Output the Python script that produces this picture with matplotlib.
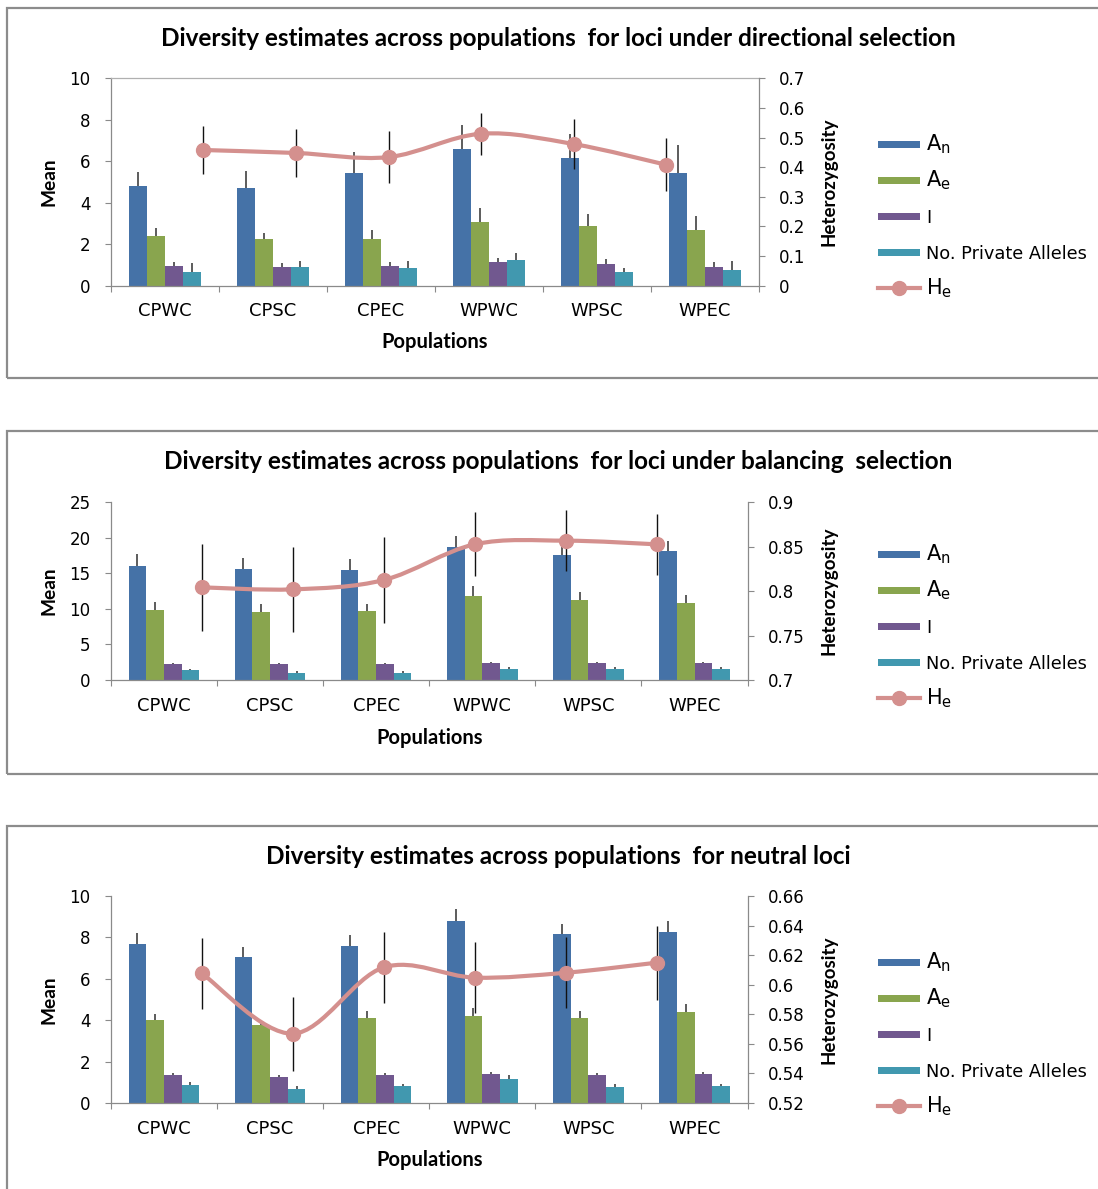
import matplotlib
matplotlib.use('Agg')
import matplotlib.pyplot as plt
from matplotlib.patches import Rectangle, PathPatch
from matplotlib.path import Path
from matplotlib.lines import Line2D
import numpy as np

# ---------------- data ----------------
populations = ['CPWC', 'CPSC', 'CPEC', 'WPWC', 'WPSC', 'WPEC']

titles = ['Diversity estimates across populations  for loci under directional selection',
          'Diversity estimates across populations  for loci under balancing  selection',
          'Diversity estimates across populations  for neutral loci']

# directional selection
dir_An = [4.79, 4.71, 5.43, 6.61, 6.14, 5.43]
dir_An_err = [0.68, 0.82, 1.03, 1.16, 1.16, 1.35]
dir_Ae = [2.40, 2.25, 2.25, 3.05, 2.88, 2.68]
dir_Ae_err = [0.37, 0.27, 0.42, 0.70, 0.60, 0.70]
dir_I = [0.95, 0.90, 0.95, 1.14, 1.05, 0.90]
dir_I_err = [0.18, 0.18, 0.18, 0.18, 0.22, 0.23]
dir_PA = [0.68, 0.90, 0.85, 1.24, 0.64, 0.77]
dir_PA_err = [0.40, 0.30, 0.36, 0.32, 0.20, 0.40]
dir_He = [0.458, 0.448, 0.434, 0.513, 0.478, 0.408]
dir_He_err = [0.082, 0.080, 0.088, 0.071, 0.085, 0.089]

# balancing selection
bal_An = [16.09, 15.67, 15.53, 18.67, 17.59, 18.10]
bal_An_err = [1.64, 1.45, 1.45, 1.64, 1.60, 1.50]
bal_Ae = [9.85, 9.57, 9.66, 11.87, 11.21, 10.88]
bal_Ae_err = [1.17, 1.12, 1.03, 1.31, 1.17, 1.08]
bal_I = [2.20, 2.20, 2.20, 2.35, 2.35, 2.35]
bal_I_err = [0.24, 0.19, 0.24, 0.23, 0.20, 0.22]
bal_PA = [1.36, 0.98, 0.98, 1.50, 1.50, 1.50]
bal_PA_err = [0.23, 0.33, 0.33, 0.38, 0.28, 0.38]
bal_He = [0.8043, 0.8020, 0.8125, 0.8527, 0.8568, 0.8527]
bal_He_err = [0.049, 0.048, 0.048, 0.036, 0.034, 0.034]

# neutral loci
neu_An = [7.68, 7.04, 7.60, 8.78, 8.15, 8.24]
neu_An_err = [0.52, 0.50, 0.50, 0.58, 0.50, 0.56]
neu_Ae = [4.03, 3.75, 4.12, 4.22, 4.12, 4.40]
neu_Ae_err = [0.27, 0.10, 0.32, 0.35, 0.32, 0.38]
neu_I = [1.35, 1.27, 1.35, 1.40, 1.35, 1.40]
neu_I_err = [0.08, 0.08, 0.08, 0.08, 0.08, 0.08]
neu_PA = [0.85, 0.66, 0.81, 1.18, 0.76, 0.81]
neu_PA_err = [0.16, 0.15, 0.13, 0.17, 0.14, 0.13]
neu_He = [0.6077, 0.5669, 0.6117, 0.6048, 0.6081, 0.6149]
neu_He_err = [0.024, 0.025, 0.024, 0.024, 0.024, 0.025]

left_ticks = [[0, 2, 4, 6, 8, 10], [0, 5, 10, 15, 20, 25], [0, 2, 4, 6, 8, 10]]
right_ticks = [[0, 0.1, 0.2, 0.3, 0.4, 0.5, 0.6, 0.7],
               [0.7, 0.75, 0.8, 0.85, 0.9],
               [0.52, 0.54, 0.56, 0.58, 0.60, 0.62, 0.64, 0.66]]
right_ticklabels = [['0', '0.1', '0.2', '0.3', '0.4', '0.5', '0.6', '0.7'],
                    ['0.7', '0.75', '0.8', '0.85', '0.9'],
                    ['0.52', '0.54', '0.56', '0.58', '0.6', '0.62', '0.64', '0.66']]

series_labels = ['A$_\\mathregular{n}$', 'A$_\\mathregular{e}$', 'I', 'No. Private Alleles',
                 'H$_\\mathregular{e}$']

# ---------------- style ----------------
W, H = 1098, 1189
C_AN, C_AE, C_I, C_PA, C_HE = '#4572A7', '#89A54E', '#71588F', '#4198AF', '#D4908E'
AX_COL = '#8a8a8a'
BOLD_FONT = ['Lato', 'DejaVu Sans']
LEG_FS = 12.8

fig = plt.figure(figsize=(W / 100, H / 100), dpi=100)


def fx(px):
    return px / W


def fy(py):
    return 1 - py / H


def smooth_path(x, y):
    pts = np.column_stack([x, y]).astype(float)
    n = len(pts)
    verts = [pts[0]]
    codes = [Path.MOVETO]
    for i in range(n - 1):
        p0 = pts[max(i - 1, 0)]
        p1 = pts[i]
        p2 = pts[i + 1]
        p3 = pts[min(i + 2, n - 1)]
        verts += [p1 + (p2 - p0) / 6, p2 - (p3 - p1) / 6, p2]
        codes += [Path.CURVE4] * 3
    return Path(verts, codes)


class BarHandler:
    def legend_artist(self, legend, orig_handle, fontsize, handlebox):
        h = 5.0
        r = Rectangle((-handlebox.xdescent, 0.36 * fontsize - h / 2), handlebox.width, h,
                      facecolor=orig_handle.get_facecolor(), edgecolor='none')
        handlebox.add_artist(r)
        return r


class LineHandler:
    def legend_artist(self, legend, orig_handle, fontsize, handlebox):
        x0 = -handlebox.xdescent
        w = handlebox.width
        yc = 0.36 * fontsize
        ln = Line2D([x0, x0 + w], [yc, yc], color=orig_handle.get_color(),
                    lw=orig_handle.get_linewidth())
        mk = Line2D([x0 + w / 2], [yc], marker='o', markersize=orig_handle.get_markersize(),
                    color=orig_handle.get_color(), lw=0)
        handlebox.add_artist(ln)
        handlebox.add_artist(mk)
        return ln


panels = [
    dict(bars=[(dir_An, dir_An_err), (dir_Ae, dir_Ae_err), (dir_I, dir_I_err), (dir_PA, dir_PA_err)],
         he=(dir_He, dir_He_err), ylim=(0, 10), y2lim=(0, 0.7),
         box=(7, 8, 378), ax=(110.8, 758.9, 78.3, 285.7), title_y=38, xlabel_y=342,
         het_x=829, mean_x=48.5, leg_y=216, topspine=True),
    dict(bars=[(bal_An, bal_An_err), (bal_Ae, bal_Ae_err), (bal_I, bal_I_err), (bal_PA, bal_PA_err)],
         he=(bal_He, bal_He_err), ylim=(0, 25), y2lim=(0.7, 0.9),
         box=(7, 431, 774), ax=(110.8, 747.6, 502.3, 680.0), title_y=462, xlabel_y=738,
         het_x=829, mean_x=48.5, leg_y=626, topspine=False),
    dict(bars=[(neu_An, neu_An_err), (neu_Ae, neu_Ae_err), (neu_I, neu_I_err), (neu_PA, neu_PA_err)],
         he=(neu_He, neu_He_err), ylim=(0, 10), y2lim=(0.52, 0.66),
         box=(7, 826, 1200), ax=(110.8, 747.6, 896.0, 1103.0), title_y=857, xlabel_y=1160,
         het_x=829, mean_x=48.5, leg_y=1034, topspine=False),
]

colors = [C_AN, C_AE, C_I, C_PA]
n = len(populations)
x = np.arange(n)
group_w = 0.666
bw = group_w / 4

for k, p in enumerate(panels):
    bx, bt, bb = p['box']
    fig.add_artist(Rectangle((fx(bx), fy(bb)), fx(1120 - bx), (bb - bt) / H,
                             transform=fig.transFigure, fill=False, ec='#8c8c8c', lw=1.6,
                             clip_on=False))
    l, r, t, b = p['ax']
    rect = [fx(l), fy(b), (r - l) / W, (b - t) / H]
    ax = fig.add_axes(rect)
    handles = []
    for j, (vals, errs) in enumerate(p['bars']):
        offs = (j - 1.5) * bw
        bc = ax.bar(x + offs, vals, width=bw, color=colors[j], edgecolor='none', zorder=2,
                    yerr=[np.zeros(n), errs], error_kw=dict(ecolor='#303030', elinewidth=1.1,
                                                            capsize=0, zorder=3))
        handles.append(bc.patches[0])
    ax.set_xlim(-0.5, n - 0.5)
    ax.set_ylim(*p['ylim'])
    ax.set_yticks(left_ticks[k])
    ax.set_xticks(np.arange(-0.5, n, 1.0))
    ax.set_xticklabels([])
    ax.set_xticks(x, minor=True)
    ax.set_xticklabels(populations, minor=True)
    ax.tick_params(axis='x', which='major', direction='out', length=4, color=AX_COL)
    ax.tick_params(axis='x', which='minor', length=0, pad=12, labelsize=13)
    ax.tick_params(axis='y', direction='out', length=4, color=AX_COL, pad=10.5, labelsize=12)
    for s in ['left', 'bottom']:
        ax.spines[s].set_color(AX_COL)
        ax.spines[s].set_linewidth(0.9)
    ax.spines['right'].set_visible(False)
    if p['topspine']:
        ax.spines['top'].set_color('#b0b0b0')
        ax.spines['top'].set_linewidth(0.9)
    else:
        ax.spines['top'].set_visible(False)

    ax2 = fig.add_axes(rect)
    ax2.patch.set_visible(False)
    ax2.set_xlim(0, n + 1)
    ax2.set_ylim(*p['y2lim'])
    ax2.set_xticks([])
    ax2.yaxis.tick_right()
    ax2.set_yticks(right_ticks[k])
    ax2.set_yticklabels(right_ticklabels[k])
    ax2.tick_params(axis='y', direction='out', length=4, color=AX_COL, pad=10.5, labelsize=12)
    for s in ['left', 'top', 'bottom']:
        ax2.spines[s].set_visible(False)
    ax2.spines['right'].set_color(AX_COL)
    ax2.spines['right'].set_linewidth(0.9)
    he, he_err = p['he']
    hx = np.arange(1, n + 1)
    ax2.add_patch(PathPatch(smooth_path(hx, he), fill=False, ec=C_HE, lw=3.0, zorder=3,
                            capstyle='round'))
    ax2.errorbar(hx, he, yerr=he_err, fmt='none', ecolor='#111111', elinewidth=1.0,
                 capsize=0, zorder=4)
    ax2.plot(hx, he, 'o', color=C_HE, markersize=10, zorder=5)
    he_handle = Line2D([], [], color=C_HE, lw=3.0, marker='o', markersize=10)
    handles.append(he_handle)

    # texts
    fig.text(fx(558), fy(p['title_y']), titles[k], ha='center', va='center',
             fontsize=17.5, fontweight='bold', family=BOLD_FONT)
    fig.text(fx((l + r) / 2), fy(p['xlabel_y']), 'Populations', ha='center', va='center',
             fontsize=14.5, fontweight='bold', family=BOLD_FONT)
    fig.text(fx(p['mean_x']), fy((t + b) / 2), 'Mean', ha='center', va='center',
             rotation=90, fontsize=13.8, fontweight='bold', family=BOLD_FONT)
    fig.text(fx(p['het_x']), fy((t + b) / 2), 'Heterozygosity', ha='center', va='center',
             rotation=90, fontsize=13.5, fontweight='bold', family=BOLD_FONT)

    hmap = {hh: BarHandler() for hh in handles[:4]}
    hmap[he_handle] = LineHandler()
    leg = fig.legend(handles, series_labels, loc='center left',
                     bbox_to_anchor=(fx(878), fy(p['leg_y'] + 1.0)), frameon=False,
                     fontsize=LEG_FS, handlelength=2.36, handleheight=1.8, handletextpad=0.34,
                     labelspacing=0.61, borderpad=0, borderaxespad=0, handler_map=hmap)
    for i, txt in enumerate(leg.get_texts()):
        if i in (0, 1, 4):
            txt.set_fontsize(15)

fig.savefig('out.png', dpi=100)
